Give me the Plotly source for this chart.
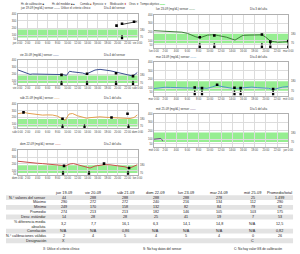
import plotly.graph_objects as go

# ---------------- DATA ----------------
days = ["jue 19-09", "vie 20-09", "sáb 21-09", "dom 22-09", "lun 23-09", "mar 24-09", "mié 25-09"]
next_days = ["vie", "sáb", "dom", "lun", "mar", "mié", "jue"]
day_notes = ["Día 4 del sensor", "Día 4 del sensor", "Día 1 del alta", "Día 2 del alta",
             "Día 3 del alta", "Día 4 del alta", "Día 5 del alta"]
extra_notes = ["Utilice el criterio clínico", "", "", "", "", "", ""]

jue_h = [20.9, 21.3, 21.7, 22.1, 22.5, 22.9, 23.3, 23.7, 24.0]
jue_v = [252, 258, 262, 268, 272, 278, 288, 290, 286]
vie_h = [0, 0.5, 1, 1.5, 2, 2.5, 3, 4, 5, 6, 7, 8, 9, 9.8, 10.4, 11, 12, 13, 13.7, 14.5, 15.5,
         16.5, 17.5, 18.5, 19.5, 20.5, 21.5, 22.5, 23, 23.5, 24]
vie_v = [262, 250, 238, 225, 205, 195, 200, 198, 202, 196, 194, 198, 192, 180, 240, 232, 228,
         215, 198, 222, 258, 268, 262, 248, 232, 215, 198, 182, 172, 195, 225]
sab_h = [0, 1, 1.5, 2, 3, 4, 5, 6, 7, 8, 8.8, 9.5, 10.3, 11, 12, 13, 13.8, 14.5, 15.5, 16.5,
         17.5, 18.5, 19.5, 20.5, 21.5, 22.5, 23.3, 24]
sab_v = [255, 268, 272, 262, 250, 240, 235, 238, 236, 220, 185, 158, 250, 258, 225, 205, 190,
         198, 205, 210, 204, 200, 198, 195, 190, 185, 200, 240]
dom_h = [0, 1, 2, 3, 4, 5, 6, 7, 8, 9, 9.5, 10.5, 11.2, 12, 13, 14, 14.5, 15.5, 16.5, 17.5,
         18.5, 19.5, 20.5, 21.5, 22.3, 23, 24]
dom_v = [240, 230, 222, 215, 210, 205, 200, 195, 188, 178, 170, 200, 205, 190, 168, 150, 140,
         170, 185, 190, 188, 180, 170, 158, 135, 160, 190]
lun_h = [0, 1, 2, 2.7, 4, 5, 6, 6.7, 7.5, 8.2, 9, 9.6, 10.3, 10.8, 11.5, 12.3, 13, 13.8, 14.5,
         15.2, 15.9, 17, 18.2, 19.3, 20, 20.8, 21.5, 22.2, 23, 24]
lun_v = [216, 212, 208, 206, 203, 199, 185, 162, 145, 133, 150, 165, 168, 169, 160, 150, 140,
         122, 107, 135, 162, 165, 163, 168, 140, 95, 89, 82, 85, 90]
mar_h = [0, 1, 2, 3, 4, 5, 6, 7, 7.5, 8.6, 9.5, 10.5, 11.3, 12, 13, 14, 14.5, 15.5, 16.5, 17.5,
         18.5, 19.5, 20.5, 21.3, 22, 23, 24]
mar_v = [95, 102, 110, 108, 105, 100, 98, 96, 100, 102, 98, 115, 134, 120, 105, 98, 96, 100,
         108, 112, 106, 104, 98, 84, 96, 112, 118]
mie_h = [0, 0.25, 0.5, 0.75, 1.0, 1.25, 1.45, 1.6]
mie_v = [103, 105, 104, 107, 110, 112, 98, 80]

meter_h = [[19.8, 20.9, 23.3], [8.8, 13.9, 19.7, 23.1], [1.2, 9.0, 18.8, 22.0], [9.3, 17.3, 22.3],
           [8.2, 10.8, 19.3, 20.8, 24.0], [7.3, 8.6, 11.3, 14.4, 15.5, 21.3], []]
meter_v = [[235, 262, 290], [188, 205, 212, 170], [275, 182, 200, 255], [172, 205, 140],
           [140, 160, 172, 89, 95], [108, 100, 140, 104, 100, 90], []]
calib_h = [[20.9], [8.8, 13.9, 19.7, 23.1], [9.0, 13.4, 22.2], [9.1, 14.3, 22.1],
           [8.2, 10.8, 19.3, 20.8, 24.0], [7.3, 8.6, 14.4, 15.5, 21.3], []]

sensor_h = [jue_h, vie_h, sab_h, dom_h, lun_h, mar_h, mie_h]
sensor_v = [jue_v, vie_v, sab_v, dom_v, lun_v, mar_v, mie_v]

target_low, target_high = 70, 180
hour_ticks = list(range(0, 25, 2))

row_labels = ["N.° valores del sensor", "Máximo", "Mínimo", "Promedio", "Desv. estándar",
              "% diferencia media<br>absoluta", "Correlación", "N.° calibraciones válidas", "Designación"]
table_headers = ["jue 19-09", "vie 20-09", "sáb 21-09", "dom 22-09", "lun 23-09",
                 "mar 24-09", "mié 25-09", "Promedio/total"]
col_jue = ["44", "290", "249", "274", "14", "3,2", "N/A", "2", "X"]
col_vie = ["288", "272", "170", "213", "28", "7,7", "N/A", "4", ""]
col_sab = ["288", "272", "158", "213", "28", "16,1", "0,86", "5", ""]
col_dom = ["288", "240", "132", "182", "25", "6,3", "N/A", "4", ""]
col_lun = ["288", "216", "82", "146", "41", "14,1", "N/A", "5", ""]
col_mar = ["278", "134", "84", "105", "19", "14,8", "N/A", "4", ""]
col_mie = ["25", "112", "79", "103", "7", "N/A", "N/A", "0", "C"]
col_tot = ["1.499", "290", "62", "175", "53", "12,5", "0,82", "26", ""]

legend_items = ["Hr. de calibración", "Hr. del medidor", "Comida", "Ejercicio",
                "Medicación", "Otros", "Tiempo objetivo"]
footer_notes = ["X: Utilice el criterio clínico", "S: No hay datos del sensor",
                "C: No hay valor GS de calibración"]

# ---------------- STYLE / LAYOUT ----------------
W, H = 300, 254
FONT = "Liberation Sans, Arial, sans-serif"
def fx(px): return px / W
def fy(py): return 1 - py / H

panel_px = [(12, 137, 12, 38), (12, 137, 59, 84), (12, 137, 103, 128), (12, 137, 150, 175),
            (154, 294, 13, 47), (154, 294, 61, 95), (154, 294, 113, 147)]
title_py = [6.5, 54, 97, 144, 7.5, 56, 108]
note_px = [100, 100, 100, 100, 252, 252, 252]
yranges = [[40, 400]] * 4 + [[10, 400]] * 3
line_colors = ["#4a4a4a", "#3b4f8f", "#e3a04f", "#c9504a", "#3f7d3a", "#4f95c4", "#6b4a80"]
GREEN = "rgb(150,238,145)"

fig = go.Figure()
layout = dict(width=W, height=H, margin=dict(l=0, r=0, t=0, b=0),
              paper_bgcolor="white", plot_bgcolor="white", showlegend=False,
              font=dict(family=FONT, color="#333"))
shapes, annots = [], []

for i in range(7):
    n = i + 1
    xs = "" if n == 1 else str(n)
    x0, x1, y0, y1 = panel_px[i]
    yr = yranges[i]
    ticktext = [f"{days[i].split()[0]} 0:00"] + [f"{h}:00" for h in hour_ticks[1:-1]] + [f"{next_days[i]} 0:00"]
    layout["xaxis" + xs] = dict(domain=[fx(x0), fx(x1)], range=[0, 24], anchor="y" + xs,
                                tickvals=hour_ticks, ticktext=ticktext, tickangle=0,
                                tickfont=dict(size=2.7, color="#444"), showgrid=True,
                                gridcolor="#dcdcdc", gridwidth=0.5, showline=True, linecolor="#b0b0b0",
                                linewidth=0.6, mirror=True, zeroline=False, ticks="")
    layout["yaxis" + xs] = dict(domain=[fy(y1), fy(y0)], range=yr, anchor="x" + xs,
                                tickvals=[50, 100, 200, 300, 400], tickfont=dict(size=2.7, color="#444"),
                                showgrid=True, gridcolor="#dcdcdc", gridwidth=0.5, showline=True,
                                linecolor="#b0b0b0", linewidth=0.6, mirror=True, zeroline=False, ticks="")
    shapes.append(dict(type="rect", xref=f"x{xs} domain", x0=0, x1=1, yref="y" + xs,
                       y0=target_low, y1=target_high, fillcolor=GREEN,
                       line=dict(width=0), layer="below"))
    fig.add_trace(go.Scatter(x=sensor_h[i], y=sensor_v[i], mode="lines", xaxis="x" + xs, yaxis="y" + xs,
                             line=dict(color=line_colors[i], width=1.0)))
    fig.add_trace(go.Scatter(x=meter_h[i], y=meter_v[i], mode="markers", xaxis="x" + xs, yaxis="y" + xs,
                             marker=dict(symbol="square", size=2.6, color="black")))
    span = yr[1] - yr[0]
    fig.add_trace(go.Scatter(x=calib_h[i], y=[yr[0] + 0.05 * span] * len(calib_h[i]), mode="markers",
                             xaxis="x" + xs, yaxis="y" + xs,
                             marker=dict(symbol="square", size=2.3, color="black")))
    fig.add_trace(go.Scatter(x=calib_h[i], y=[yr[0] + 0.14 * span] * len(calib_h[i]), mode="markers",
                             xaxis="x" + xs, yaxis="y" + xs,
                             marker=dict(symbol="circle", size=1.7, color="#222")))
    for v in (target_high, target_low):
        annots.append(dict(xref=f"x{xs} domain", x=1, yref="y" + xs, y=v, text=str(v),
                           showarrow=False, xanchor="left", xshift=0.5, font=dict(size=2.7, color="#444")))
    annots.append(dict(xref="paper", yref="paper", x=fx(x0), y=fy(title_py[i]),
                       text=f"{days[i]} (mg/dL) sensor <span style='color:{line_colors[i]}'>——</span>",
                       showarrow=False, xanchor="left", yanchor="middle", font=dict(size=2.9, color="#333")))
    annots.append(dict(xref="paper", yref="paper", x=fx(note_px[i]), y=fy(title_py[i]),
                       text=day_notes[i], showarrow=False, xanchor="left", yanchor="middle",
                       font=dict(size=2.9, color="#333")))
    if extra_notes[i]:
        annots.append(dict(xref="paper", yref="paper", x=fx(55), y=fy(title_py[i]),
                           text=extra_notes[i], showarrow=False, xanchor="left", yanchor="middle",
                           font=dict(size=2.9, color="#333")))

# top legend
legend_px = [14, 46, 75, 89, 106, 126, 138]
legend_sym = ["■", "■▲", "<span style='color:#b5651d'>■</span>", "▼",
              "<span style='color:#c0392b'>⬍</span>", "▼", f"<span style='color:{GREEN}'>▬▬</span>"]
for px, t, s in zip(legend_px, legend_items, legend_sym):
    annots.append(dict(xref="paper", yref="paper", x=fx(px), y=fy(2.3), text=f"{t} {s}",
                       showarrow=False, xanchor="left", yanchor="middle", font=dict(size=2.7, color="#333")))

# footer
for px, t in zip([58, 163, 263], footer_notes):
    annots.append(dict(xref="paper", yref="paper", x=fx(px), y=fy(249.5), text=t, showarrow=False,
                       xanchor="center", yanchor="middle", font=dict(size=3.2, color="#222")))

# table drawn as text cells with striped rows
cols = [col_jue, col_vie, col_sab, col_dom, col_lun, col_mar, col_mie, col_tot]
col_cx = [60, 91, 124, 156, 188, 222, 257, 285]
label_right = 44
header_py = 193
row_h = [4.9, 4.9, 4.9, 4.9, 4.9, 9.4, 4.9, 4.9, 4.9]
top = 195.5
TF = 3.7
for r, lab in enumerate(row_labels):
    y_top, y_bot = top, top + row_h[r]
    if r % 2 == 0:
        shapes.append(dict(type="rect", xref="paper", yref="paper", x0=0, x1=fx(299),
                           y0=fy(y_bot), y1=fy(y_top), fillcolor="#e3e3e3", line=dict(width=0), layer="below"))
    cy = fy((y_top + y_bot) / 2)
    annots.append(dict(xref="paper", yref="paper", x=fx(label_right), y=cy, text=lab, showarrow=False,
                       xanchor="right", yanchor="middle", align="right", font=dict(size=TF, color="#222")))
    for c, col in enumerate(cols):
        if col[r]:
            annots.append(dict(xref="paper", yref="paper", x=fx(col_cx[c]), y=cy, text=col[r],
                               showarrow=False, xanchor="center", yanchor="middle",
                               font=dict(size=TF, color="#222")))
    top = y_bot
for c, hd in enumerate(table_headers):
    annots.append(dict(xref="paper", yref="paper", x=fx(col_cx[c]), y=fy(header_py), text=hd,
                       showarrow=False, xanchor="center", yanchor="middle", font=dict(size=3.9, color="#222")))

layout["shapes"] = shapes
layout["annotations"] = annots
fig.update_layout(**layout)
fig.write_html("out.html")
